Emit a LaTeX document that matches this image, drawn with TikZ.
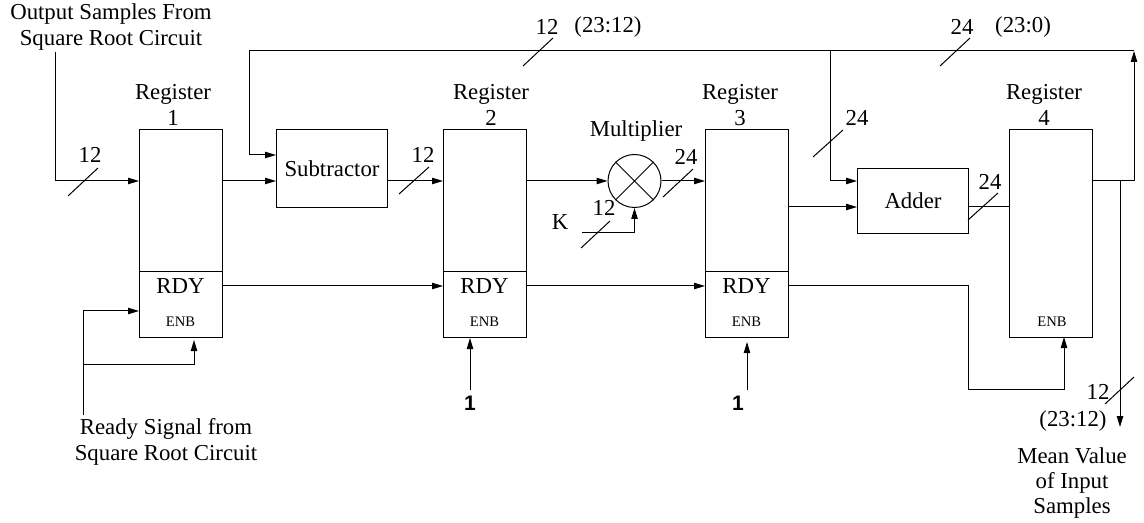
\documentclass[tikz,border=0pt]{standalone}
\usepackage{fontspec}
\setmainfont{Liberation Serif}
\newfontfamily\arialfont{Liberation Sans}
\usetikzlibrary{arrows.meta}
\begin{document}
\begin{tikzpicture}[x=0.5pt,y=-0.5pt, line width=0.5pt,
  arr/.style={-{Triangle[length=5.5pt,width=3.2pt]}},
  box/.style={draw, inner sep=0pt, anchor=north west, font=\fontsize{11.4}{12.5}\selectfont},
  reg/.style={box, minimum width=41.5pt, minimum height=104pt},
  lbl/.style={inner sep=0pt, font=\fontsize{11.4}{12.7}\selectfont, align=center},
  small/.style={inner sep=0pt, font=\fontsize{7.3}{8}\selectfont},
  one/.style={inner sep=0pt, font=\arialfont\bfseries\fontsize{10.5}{12}\selectfont}]
\useasboundingbox (0,0) rectangle (1144,523);

\coordinate (yA) at (0,181);
\coordinate (yB) at (0,207);
\coordinate (yC) at (0,155);
\coordinate (yD) at (0,272);
\coordinate (yR) at (0,286);
\coordinate (yE) at (0,311);

% blocks
\node[reg] (r1) at (139,129) {};
\node[reg] (r2) at (443,129) {};
\node[reg] (r3) at (705,129) {};
\node[reg] (r4) at (1009,129) {};
\node[box, minimum width=55.5pt, minimum height=39pt] (sub) at (276,129) {Subtractor};
\node[draw, circle, minimum size=26.5pt, inner sep=0pt] (mul) at (634.5,181) {};
\draw (mul.north west) -- (mul.south east) (mul.north east) -- (mul.south west);
\node[box, minimum width=55.5pt, minimum height=32.5pt] (add) at (857,168) {Adder};

\foreach \r in {r1,r2,r3} \draw (\r.west |- yD) -- (\r.east |- yD);

% block labels
\node[lbl] (t1) at (173,105) {Register\\1};
\node[lbl] (t2) at (491,105) {Register\\2};
\node[lbl] (t3) at (740,105) {Register\\3};
\node[lbl] (t4) at (1044,105) {Register\\4};
\node[lbl] (rdy1) at (180.5,286) {RDY};
\node[lbl] (rdy2) at (484.5,286) {RDY};
\node[lbl] (rdy3) at (746.5,286) {RDY};
\node[small] (enb1) at (180.5,322) {ENB};
\node[small] (enb2) at (484.5,322) {ENB};
\node[small] (enb3) at (746.5,322) {ENB};
\node[small] (enb4) at (1052,322) {ENB};
\node[lbl] (mult) at (636,131) {Multiplier};

% texts
\node[lbl] (src) at (111,27) {Output Samples From\\Square Root Circuit};
\node[lbl] (rdysrc) at (166,442) {Ready Signal from\\Square Root Circuit};
\node[lbl] (mean) at (1072,483) {Mean Value\\of Input\\Samples};
\node[lbl] (kk) at (560,222) {K};
\node[one] (one2) at (470,403) {1};
\node[one] (one3) at (738,403) {1};

% data path
\coordinate (in0) at (55,52);
\draw[arr] (in0) |- (r1.west |- yA);
\draw[arr] (r1.east |- yA) -- (sub.west |- yA);
\draw[arr] (sub.east |- yA) -- (r2.west |- yA);
\draw[arr] (r2.east |- yA) -- (mul.west);
\draw[arr] (mul.east) -- (r3.west |- yA);
\coordinate (k0) at (582,233);
\draw[arr] (k0) -| (mul.south);
\draw[arr] (r3.east |- yB) -- (add.west |- yB);
\draw (add.east |- yB) -- (r4.west |- yB);
\coordinate (tr) at (1134,51);
\coordinate (tl) at (249,51);
\coordinate (tap) at (830,51);
\draw[arr] (r4.east |- yA) -| (tr);
\draw[arr] (tr) -- (tl) |- (sub.west |- yC);
\draw[arr] (tap) |- (add.west |- yA);
\coordinate (otap) at (1120,181);
\coordinate (oend) at (1120,427);
\draw[arr] (otap) -- (oend);

% ready path
\draw[arr] (r1.east |- yR) -- (r2.west |- yR);
\draw[arr] (r2.east |- yR) -- (r3.west |- yR);
\coordinate (rc1) at (968,389);
\coordinate (e4) at (1064,337);
\draw[arr] (r3.east |- yR) -| (rc1) -| (e4);
\coordinate (rs0) at (83,415);
\coordinate (rsb) at (83,364);
\coordinate (e1) at (194,340);
\draw[arr] (rs0) |- (r1.west |- yE);
\draw[arr] (rsb) -| (e1);
\coordinate (o2) at (470,390);
\coordinate (o3) at (747,390);
\coordinate (e3) at (747,342);
\draw[arr] (o2) -- (r2.south -| o2);
\draw[arr] (o3) -- (e3);

% bus width marks
\draw (68,196) -- (98,168);
\draw (399,194) -- (429,167);
\draw (663,197) -- (693,169);
\draw (581,248) -- (610,221);
\draw (813,157) -- (843,130);
\draw (968,220) -- (998,193);
\draw (523,66) -- (553,38);
\draw (940,66) -- (970,38);
\draw (1105,404) -- (1134,377);
\node[lbl] (w1) at (90,155) {12};
\node[lbl] (w2) at (423,155) {12};
\node[lbl] (w3) at (686,157) {24};
\node[lbl] (w4) at (604,208) {12};
\node[lbl] (w5) at (857,118) {24};
\node[lbl] (w6) at (990,182) {24};
\node[lbl] (w7) at (547,27) {12};
\node[lbl] (w7b) at (608,27) {(23:12)};
\node[lbl] (w8) at (962,27) {24};
\node[lbl] (w8b) at (1023,27) {(23:0)};
\node[lbl] (w9) at (1098,392) {12};
\node[lbl] (w9b) at (1073,421) {(23:12)};
\end{tikzpicture}
\end{document}
